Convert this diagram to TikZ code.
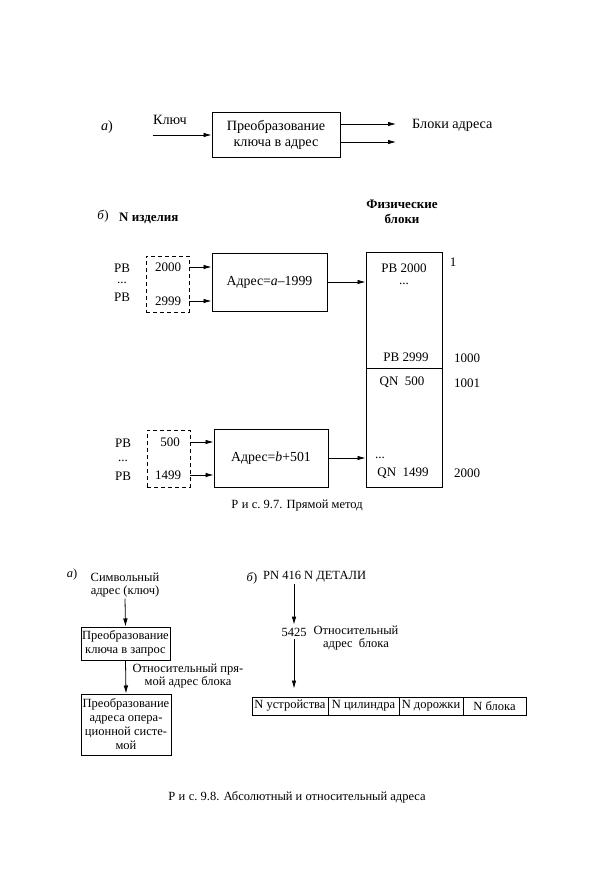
\documentclass[tikz,border=0pt]{standalone}
\usepackage{fontspec}
\setmainfont{Liberation Serif}
\usetikzlibrary{arrows.meta}
\begin{document}
\begin{tikzpicture}[x=1pt,y=-1pt,
 arr/.style={-{Latex[length=8pt,width=4.6pt]}, line width=0.8pt},
 box/.style={draw, line width=1pt, inner sep=0pt, align=center},
 dbox/.style={draw, dashed, dash pattern=on 4pt off 3pt, line width=0.8pt, inner sep=0pt},
 txt/.style={inner sep=1pt, font=\fontsize{13}{13.5}\selectfont},
 atxt/.style={inner sep=1pt, font=\fontsize{14.2}{16}\selectfont},
 stxt/.style={inner sep=1pt, font=\fontsize{12.5}{13.5}\selectfont},
 btxt/.style={inner sep=1pt, font=\fontsize{13}{15}\selectfont\bfseries},
 dots/.style={inner sep=0pt, text height=1.5pt, text depth=0pt, font=\fontsize{13}{13.5}\selectfont},
 captxt/.style={inner sep=1pt, font=\fontsize{12.5}{14}\selectfont}]
\useasboundingbox (0,0) rectangle (600,879);
% ---------- Fig 9.7 a ----------
\node[atxt] (la) at (107,127) {\textit{а})};
\node[atxt] (key) at (170,120) {Ключ};
\node[box, atxt, inner sep=0pt, minimum width=128, minimum height=45] (conv) at (276,134.5) {Преобразование\\ключа в адрес};
\coordinate (kin) at (153,135);
\draw[arr] (kin) -- (kin -| conv.west);
\coordinate (o1) at (396,124);
\coordinate (o2) at (396,142);
\draw[arr] (conv.east |- o1) -- (o1);
\draw[arr] (conv.east |- o2) -- (o2);
\node[atxt, anchor=west] (blk) at (411,125) {Блоки адреса};
% ---------- Fig 9.7 b ----------
\node[txt] (lb) at (103,216) {\textit{б})};
\node[btxt, anchor=west] (nizd) at (118,218) {N изделия};
\node[btxt, align=center] (fiz) at (402,212) {Физические\\блоки};
% upper group
\node[dbox, minimum width=43, minimum height=56] (d1) at (167.5,284) {};
\node[txt] (n2000) at (168,267) {2000};
\node[txt] (n2999) at (168,301) {2999};
\node[txt] (pb1) at (122,268) {PB};
\node[dots] (dt1) at (122,283) {...};
\node[txt] (pb2) at (122,297) {PB};
\node[box, txt, font=\fontsize{13.8}{15}\selectfont, minimum width=115, minimum height=58] (b1) at (269.5,282) {Адрес=\textit{a}–1999};
\draw[arr] (d1.east |- n2000) -- (b1.west |- n2000);
\draw[arr] (d1.east |- n2999) -- (b1.west |- n2999);
% column
\node[box, minimum width=76, minimum height=116] (col1) at (404,310) {};
\node[box, minimum width=76, minimum height=119] (col2) at (404,427.5) {};
\draw[arr] (b1.east) -- (b1.east -| col1.west);
\node[txt] (c2000) at (404,268) {PB 2000};
\node[dots] (cdt1) at (404,284) {...};
\node[txt] (c2999) at (406,357) {PB 2999};
\node[txt] (q500) at (402,382) {QN\ \ 500};
\node[dots] (cdt2) at (380,458) {...};
\node[txt] (q1499) at (403,473) {QN\ \ 1499};
\node[txt] (r1) at (453,262) {1};
\node[txt] (r1000) at (467,358) {1000};
\node[txt] (r1001) at (467,383) {1001};
\node[txt] (r2000) at (467,473) {2000};
% lower group
\node[dbox, minimum width=43, minimum height=57] (d2) at (168.5,458.5) {};
\node[txt] (n500) at (170,442) {500};
\node[txt] (n1499) at (168,475) {1499};
\node[txt] (pb3) at (123,443) {PB};
\node[dots] (dt2) at (123,461) {...};
\node[txt] (pb4) at (123,476) {PB};
\node[box, txt, font=\fontsize{13.8}{15}\selectfont, minimum width=114, minimum height=58] (b2) at (271,458) {Адрес=\textit{b}+501};
\draw[arr] (d2.east |- n500) -- (b2.west |- n500);
\draw[arr] (d2.east |- n1499) -- (b2.west |- n1499);
\draw[arr] (b2.east) -- (b2.east -| col2.west);
\node[captxt] (cap97) at (297,506) {Р\;и\;с.\ 9.7. Прямой метод};
% ---------- Fig 9.8 a ----------
\node[stxt] (la2) at (72,574) {\textit{а})};
\node[stxt, align=center] (sym) at (125,585) {Символьный\\адрес (ключ)};
\node[box, stxt, inner sep=0pt, minimum width=89, minimum height=33] (c1) at (125.5,643.5) {Преобразование\\ключа в запрос};
\node[box, stxt, inner sep=0pt, minimum width=90, minimum height=61, font=\fontsize{12.5}{14}\selectfont] (c2) at (126,724.5) {Преобразование\\адреса опера-\\ционной систе-\\мой};
\draw[arr] (sym.south) -- (c1.north);
\draw[arr] (c1.south) -- (c2.north);
\node[stxt, align=center] (rel1) at (188,676) {Относительный пря-\\мой адрес блока};
% ---------- Fig 9.8 b ----------
\node[stxt] (lb2) at (252,578) {\textit{б})};
\node[stxt, anchor=west] (pn) at (262,577) {PN 416 N ДЕТАЛИ};
\node[stxt, inner sep=3pt] (n5425) at (294,632) {5425};
\node[stxt, align=center] (rel2) at (356,638) {Относительный\\адрес\ \ блока};
\draw[arr] (pn.south -| n5425) -- (n5425.north);
\node[box, stxt, minimum width=76, minimum height=18] (t1) at (290,706) {N устройства};
\node[box, stxt, minimum width=71, minimum height=18] (t2) at (363.5,706) {N цилиндра};
\node[box, stxt, minimum width=64, minimum height=18] (t3) at (431,706) {N дорожки};
\node[box, stxt, minimum width=63, minimum height=18] (t4) at (494.5,706) {N блока};
\draw[arr] (n5425.south) -- ([yshift=8pt]t1.north -| n5425);
\node[captxt] (cap98) at (297,797) {Р\;и\;с.\ 9.8. Абсолютный и относительный адреса};
\end{tikzpicture}
\end{document}
